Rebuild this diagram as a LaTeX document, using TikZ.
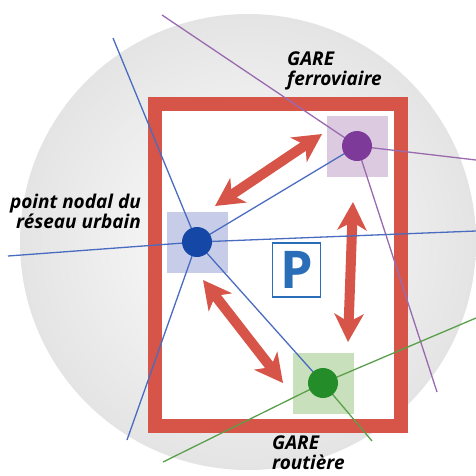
\documentclass[tikz,border=0pt]{standalone}
\usepackage{fontspec}
\setmainfont{Open Sans}
\usetikzlibrary{arrows.meta}
\definecolor{boxred}{HTML}{D65448}
\definecolor{purpdot}{HTML}{7E3A98}
\definecolor{purpline}{HTML}{9A6AAE}
\definecolor{purpsq}{HTML}{DCCBE0}
\definecolor{bluedot}{HTML}{1447A6}
\definecolor{blueline}{HTML}{4A6CC0}
\definecolor{bluesq}{HTML}{C7CDE8}
\definecolor{greendot}{HTML}{258C2A}
\definecolor{greenline}{HTML}{5AA04A}
\definecolor{greensq}{HTML}{C9E0BC}
\definecolor{pblue}{HTML}{2A6DB8}
\definecolor{sphere}{HTML}{E4E4E4}
\begin{document}
\begin{tikzpicture}[x=1pt,y=-1pt,
  sq/.style={minimum size=61pt, inner sep=0pt, draw=none},
  dot/.style={circle, minimum size=30pt, inner sep=0pt},
  ln/.style={line width=1.3pt},
  dbl/.style={draw=boxred, line width=10pt,
     {Stealth[width=29pt,length=28pt,inset=8pt]}-{Stealth[width=29pt,length=28pt,inset=8pt]}},
  lab/.style={font=\fontsize{19}{20}\selectfont\bfseries\itshape, inner sep=0pt}]
\useasboundingbox (0,0) rectangle (476,475);
\fill[white] (0,0) rectangle (476,475);
% sphere
\shade[inner color=white, outer color=sphere] (248,242) circle (228);
% frame
\draw[boxred, line width=14pt, fill=white] (154.5,104) rectangle (400.5,425.5);
% squares
\node[sq, fill=purpsq] (sqf) at (357,146) {};
\node[sq, fill=bluesq] (squ) at (197,242) {};
\node[sq, fill=greensq] (sqr) at (323,383) {};
% arrows
\coordinate (a1s) at (215,206);
\coordinate (a1e) at (322,134);
\coordinate (a2s) at (353,202);
\coordinate (a2e) at (348,342);
\coordinate (a3s) at (203,280);
\coordinate (a3e) at (283,383);
\draw[dbl] (a1s) -- (a1e);
\draw[dbl] (a2s) -- (a2e);
\draw[dbl] (a3s) -- (a3e);
% line end points
\coordinate (f1) at (162,15);
\coordinate (f2) at (476,160);
\coordinate (f3) at (437,392);
\coordinate (u1) at (113,38);
\coordinate (u2) at (8,256);
\coordinate (u3) at (476,231);
\coordinate (u4) at (127,440);
\coordinate (r1) at (163,462);
\coordinate (r2) at (476,318);
\coordinate (r3) at (372,441);
% lines
\draw[ln, purpline] (f1) -- (sqf.center) -- (f2);
\draw[ln, purpline] (sqf.center) -- (f3);
\draw[ln, blueline] (u1) -- (squ.center) -- (sqr.center);
\draw[ln, blueline] (u2) -- (squ.center) -- (u3);
\draw[ln, blueline] (u4) -- (squ.center) -- (sqf.center);
\draw[ln, greenline] (r1) -- (sqr.center) -- (r2);
\draw[ln, greenline] (sqr.center) -- (r3);
% dots
\node[dot, fill=purpdot] (nf) at (sqf.center) {};
\node[dot, fill=bluedot] (nu) at (squ.center) {};
\node[dot, fill=greendot] (nr) at (sqr.center) {};
% P
\node[draw=pblue, line width=1.2pt, fill=white, minimum width=48pt, minimum height=54pt, inner sep=0pt,
      text=pblue, font=\fontsize{52}{52}\selectfont\bfseries] (P) at (296.5,270) {P};
% labels
\node[lab, align=left, anchor=north west] (lf) at (287,52) {GARE\\ferroviaire};
\node[lab, align=right, anchor=north east] (lu) at (141,194) {point nodal du\\réseau urbain};
\node[lab, align=left, anchor=north west] (lr) at (272,436) {GARE\\routière};
\end{tikzpicture}
\end{document}
